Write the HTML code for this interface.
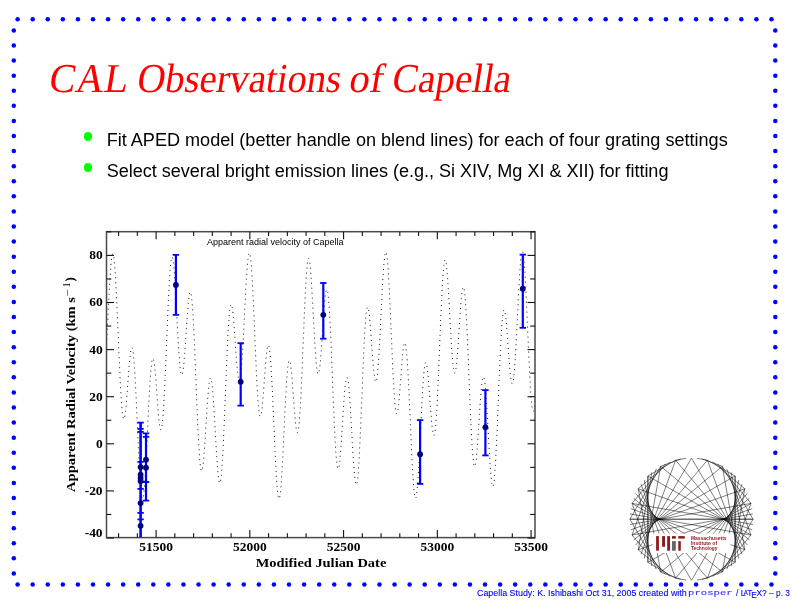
<!DOCTYPE html>
<html><head><meta charset="utf-8"><style>
html,body{margin:0;padding:0;background:#fff;}
body{width:792px;height:612px;position:relative;overflow:hidden;}
.t{position:absolute;white-space:nowrap;line-height:1;}
.ti{top:58px;font-family:"Liberation Serif",serif;color:#ff0000;font-size:41px;transform-origin:0 33px;}
.b{font-family:"Liberation Sans",sans-serif;font-size:18.08px;color:#000;left:106.7px;}
.dot{position:absolute;width:8.4px;height:8.8px;border-radius:50%;background:#00ff00;}
.foot{font-family:"Liberation Sans",sans-serif;font-size:8.9px;color:#0000ff;top:589px;-webkit-text-stroke:0.1px #0000ff;}
.foot.tt{font-family:"Liberation Mono",monospace;font-size:7.6px;top:590.2px;transform:scaleX(1.4);transform-origin:0 0;color:#3a3aff;}
</style></head><body>
<svg width="792" height="612" viewBox="0 0 792 612" style="position:absolute;left:0;top:0">
<g fill="#0000ff"><circle cx="17.60" cy="19.24" r="2.25"/><circle cx="17.60" cy="584.5" r="2.25"/><circle cx="32.68" cy="19.24" r="2.25"/><circle cx="32.68" cy="584.5" r="2.25"/><circle cx="47.76" cy="19.24" r="2.25"/><circle cx="47.76" cy="584.5" r="2.25"/><circle cx="62.83" cy="19.24" r="2.25"/><circle cx="62.83" cy="584.5" r="2.25"/><circle cx="77.91" cy="19.24" r="2.25"/><circle cx="77.91" cy="584.5" r="2.25"/><circle cx="92.99" cy="19.24" r="2.25"/><circle cx="92.99" cy="584.5" r="2.25"/><circle cx="108.07" cy="19.24" r="2.25"/><circle cx="108.07" cy="584.5" r="2.25"/><circle cx="123.15" cy="19.24" r="2.25"/><circle cx="123.15" cy="584.5" r="2.25"/><circle cx="138.22" cy="19.24" r="2.25"/><circle cx="138.22" cy="584.5" r="2.25"/><circle cx="153.30" cy="19.24" r="2.25"/><circle cx="153.30" cy="584.5" r="2.25"/><circle cx="168.38" cy="19.24" r="2.25"/><circle cx="168.38" cy="584.5" r="2.25"/><circle cx="183.46" cy="19.24" r="2.25"/><circle cx="183.46" cy="584.5" r="2.25"/><circle cx="198.54" cy="19.24" r="2.25"/><circle cx="198.54" cy="584.5" r="2.25"/><circle cx="213.61" cy="19.24" r="2.25"/><circle cx="213.61" cy="584.5" r="2.25"/><circle cx="228.69" cy="19.24" r="2.25"/><circle cx="228.69" cy="584.5" r="2.25"/><circle cx="243.77" cy="19.24" r="2.25"/><circle cx="243.77" cy="584.5" r="2.25"/><circle cx="258.85" cy="19.24" r="2.25"/><circle cx="258.85" cy="584.5" r="2.25"/><circle cx="273.93" cy="19.24" r="2.25"/><circle cx="273.93" cy="584.5" r="2.25"/><circle cx="289.00" cy="19.24" r="2.25"/><circle cx="289.00" cy="584.5" r="2.25"/><circle cx="304.08" cy="19.24" r="2.25"/><circle cx="304.08" cy="584.5" r="2.25"/><circle cx="319.16" cy="19.24" r="2.25"/><circle cx="319.16" cy="584.5" r="2.25"/><circle cx="334.24" cy="19.24" r="2.25"/><circle cx="334.24" cy="584.5" r="2.25"/><circle cx="349.32" cy="19.24" r="2.25"/><circle cx="349.32" cy="584.5" r="2.25"/><circle cx="364.39" cy="19.24" r="2.25"/><circle cx="364.39" cy="584.5" r="2.25"/><circle cx="379.47" cy="19.24" r="2.25"/><circle cx="379.47" cy="584.5" r="2.25"/><circle cx="394.55" cy="19.24" r="2.25"/><circle cx="394.55" cy="584.5" r="2.25"/><circle cx="409.63" cy="19.24" r="2.25"/><circle cx="409.63" cy="584.5" r="2.25"/><circle cx="424.71" cy="19.24" r="2.25"/><circle cx="424.71" cy="584.5" r="2.25"/><circle cx="439.78" cy="19.24" r="2.25"/><circle cx="439.78" cy="584.5" r="2.25"/><circle cx="454.86" cy="19.24" r="2.25"/><circle cx="454.86" cy="584.5" r="2.25"/><circle cx="469.94" cy="19.24" r="2.25"/><circle cx="469.94" cy="584.5" r="2.25"/><circle cx="485.02" cy="19.24" r="2.25"/><circle cx="485.02" cy="584.5" r="2.25"/><circle cx="500.10" cy="19.24" r="2.25"/><circle cx="500.10" cy="584.5" r="2.25"/><circle cx="515.17" cy="19.24" r="2.25"/><circle cx="515.17" cy="584.5" r="2.25"/><circle cx="530.25" cy="19.24" r="2.25"/><circle cx="530.25" cy="584.5" r="2.25"/><circle cx="545.33" cy="19.24" r="2.25"/><circle cx="545.33" cy="584.5" r="2.25"/><circle cx="560.41" cy="19.24" r="2.25"/><circle cx="560.41" cy="584.5" r="2.25"/><circle cx="575.49" cy="19.24" r="2.25"/><circle cx="575.49" cy="584.5" r="2.25"/><circle cx="590.56" cy="19.24" r="2.25"/><circle cx="590.56" cy="584.5" r="2.25"/><circle cx="605.64" cy="19.24" r="2.25"/><circle cx="605.64" cy="584.5" r="2.25"/><circle cx="620.72" cy="19.24" r="2.25"/><circle cx="620.72" cy="584.5" r="2.25"/><circle cx="635.80" cy="19.24" r="2.25"/><circle cx="635.80" cy="584.5" r="2.25"/><circle cx="650.88" cy="19.24" r="2.25"/><circle cx="650.88" cy="584.5" r="2.25"/><circle cx="665.95" cy="19.24" r="2.25"/><circle cx="665.95" cy="584.5" r="2.25"/><circle cx="681.03" cy="19.24" r="2.25"/><circle cx="681.03" cy="584.5" r="2.25"/><circle cx="696.11" cy="19.24" r="2.25"/><circle cx="696.11" cy="584.5" r="2.25"/><circle cx="711.19" cy="19.24" r="2.25"/><circle cx="711.19" cy="584.5" r="2.25"/><circle cx="726.27" cy="19.24" r="2.25"/><circle cx="726.27" cy="584.5" r="2.25"/><circle cx="741.34" cy="19.24" r="2.25"/><circle cx="741.34" cy="584.5" r="2.25"/><circle cx="756.42" cy="19.24" r="2.25"/><circle cx="756.42" cy="584.5" r="2.25"/><circle cx="771.50" cy="19.24" r="2.25"/><circle cx="771.50" cy="584.5" r="2.25"/><circle cx="13.8" cy="30.45" r="2.25"/><circle cx="775.3" cy="30.45" r="2.25"/><circle cx="13.8" cy="45.53" r="2.25"/><circle cx="775.3" cy="45.53" r="2.25"/><circle cx="13.8" cy="60.61" r="2.25"/><circle cx="775.3" cy="60.61" r="2.25"/><circle cx="13.8" cy="75.70" r="2.25"/><circle cx="775.3" cy="75.70" r="2.25"/><circle cx="13.8" cy="90.78" r="2.25"/><circle cx="775.3" cy="90.78" r="2.25"/><circle cx="13.8" cy="105.86" r="2.25"/><circle cx="775.3" cy="105.86" r="2.25"/><circle cx="13.8" cy="120.94" r="2.25"/><circle cx="775.3" cy="120.94" r="2.25"/><circle cx="13.8" cy="136.02" r="2.25"/><circle cx="775.3" cy="136.02" r="2.25"/><circle cx="13.8" cy="151.11" r="2.25"/><circle cx="775.3" cy="151.11" r="2.25"/><circle cx="13.8" cy="166.19" r="2.25"/><circle cx="775.3" cy="166.19" r="2.25"/><circle cx="13.8" cy="181.27" r="2.25"/><circle cx="775.3" cy="181.27" r="2.25"/><circle cx="13.8" cy="196.35" r="2.25"/><circle cx="775.3" cy="196.35" r="2.25"/><circle cx="13.8" cy="211.43" r="2.25"/><circle cx="775.3" cy="211.43" r="2.25"/><circle cx="13.8" cy="226.52" r="2.25"/><circle cx="775.3" cy="226.52" r="2.25"/><circle cx="13.8" cy="241.60" r="2.25"/><circle cx="775.3" cy="241.60" r="2.25"/><circle cx="13.8" cy="256.68" r="2.25"/><circle cx="775.3" cy="256.68" r="2.25"/><circle cx="13.8" cy="271.76" r="2.25"/><circle cx="775.3" cy="271.76" r="2.25"/><circle cx="13.8" cy="286.84" r="2.25"/><circle cx="775.3" cy="286.84" r="2.25"/><circle cx="13.8" cy="301.92" r="2.25"/><circle cx="775.3" cy="301.92" r="2.25"/><circle cx="13.8" cy="317.01" r="2.25"/><circle cx="775.3" cy="317.01" r="2.25"/><circle cx="13.8" cy="332.09" r="2.25"/><circle cx="775.3" cy="332.09" r="2.25"/><circle cx="13.8" cy="347.17" r="2.25"/><circle cx="775.3" cy="347.17" r="2.25"/><circle cx="13.8" cy="362.25" r="2.25"/><circle cx="775.3" cy="362.25" r="2.25"/><circle cx="13.8" cy="377.33" r="2.25"/><circle cx="775.3" cy="377.33" r="2.25"/><circle cx="13.8" cy="392.42" r="2.25"/><circle cx="775.3" cy="392.42" r="2.25"/><circle cx="13.8" cy="407.50" r="2.25"/><circle cx="775.3" cy="407.50" r="2.25"/><circle cx="13.8" cy="422.58" r="2.25"/><circle cx="775.3" cy="422.58" r="2.25"/><circle cx="13.8" cy="437.66" r="2.25"/><circle cx="775.3" cy="437.66" r="2.25"/><circle cx="13.8" cy="452.74" r="2.25"/><circle cx="775.3" cy="452.74" r="2.25"/><circle cx="13.8" cy="467.83" r="2.25"/><circle cx="775.3" cy="467.83" r="2.25"/><circle cx="13.8" cy="482.91" r="2.25"/><circle cx="775.3" cy="482.91" r="2.25"/><circle cx="13.8" cy="497.99" r="2.25"/><circle cx="775.3" cy="497.99" r="2.25"/><circle cx="13.8" cy="513.07" r="2.25"/><circle cx="775.3" cy="513.07" r="2.25"/><circle cx="13.8" cy="528.15" r="2.25"/><circle cx="775.3" cy="528.15" r="2.25"/><circle cx="13.8" cy="543.24" r="2.25"/><circle cx="775.3" cy="543.24" r="2.25"/><circle cx="13.8" cy="558.32" r="2.25"/><circle cx="775.3" cy="558.32" r="2.25"/><circle cx="13.8" cy="573.40" r="2.25"/><circle cx="775.3" cy="573.40" r="2.25"/></g>
<g clip-path="url(#pc)"><polyline points="104.1,374.6 104.3,373.2 104.5,371.6 104.7,369.8 104.9,367.9 105.0,365.7 105.2,363.4 105.4,361.0 105.6,358.3 105.8,355.6 106.0,352.6 106.2,349.6 106.4,346.4 106.5,343.1 106.7,339.8 106.9,336.3 107.1,332.8 107.3,329.2 107.5,325.5 107.7,321.8 107.9,318.1 108.0,314.4 108.2,310.7 108.4,307.0 108.6,303.3 108.8,299.7 109.0,296.1 109.2,292.6 109.4,289.2 109.5,285.9 109.7,282.6 109.9,279.5 110.1,276.6 110.3,273.7 110.5,271.0 110.7,268.5 110.9,266.2 111.0,264.0 111.2,262.0 111.4,260.3 111.6,258.7 111.8,257.3 112.0,256.2 112.2,255.3 112.4,254.6 112.5,254.1 112.7,253.9 112.9,253.9 113.1,254.1 113.3,254.6 113.5,255.4 113.7,256.3 113.9,257.5 114.0,258.9 114.2,260.6 114.4,262.5 114.6,264.6 114.8,266.9 115.0,269.4 115.2,272.1 115.4,275.0 115.5,278.1 115.7,281.4 115.9,284.8 116.1,288.4 116.3,292.1 116.5,296.0 116.7,300.0 116.9,304.1 117.0,308.3 117.2,312.5 117.4,316.9 117.6,321.3 117.8,325.7 118.0,330.2 118.2,334.6 118.4,339.1 118.5,343.6 118.7,348.0 118.9,352.4 119.1,356.8 119.3,361.1 119.5,365.3 119.7,369.4 119.9,373.5 120.0,377.4 120.2,381.2 120.4,384.8 120.6,388.3 120.8,391.7 121.0,394.9 121.2,397.9 121.4,400.7 121.5,403.4 121.7,405.8 121.9,408.1 122.1,410.2 122.3,412.0 122.5,413.7 122.7,415.1 122.9,416.3 123.0,417.3 123.2,418.1 123.4,418.7 123.6,419.0 123.8,419.1 124.0,419.1 124.2,418.8 124.4,418.3 124.5,417.7 124.7,416.8 124.9,415.8 125.1,414.6 125.3,413.2 125.5,411.6 125.7,409.9 125.9,408.1 126.0,406.2 126.2,404.1 126.4,401.9 126.6,399.6 126.8,397.3 127.0,394.9 127.2,392.4 127.4,389.9 127.5,387.3 127.7,384.7 127.9,382.1 128.1,379.5 128.3,377.0 128.5,374.4 128.7,372.0 128.9,369.5 129.0,367.2 129.2,364.9 129.4,362.7 129.6,360.6 129.8,358.7 130.0,356.8 130.2,355.2 130.4,353.6 130.5,352.2 130.7,351.0 130.9,349.9 131.1,349.1 131.3,348.4 131.5,347.9 131.7,347.6 131.9,347.5 132.0,347.6 132.2,347.9 132.4,348.4 132.6,349.1 132.8,350.1 133.0,351.2 133.2,352.6 133.4,354.2 133.5,355.9 133.7,357.9 133.9,360.1 134.1,362.5 134.3,365.0 134.5,367.7 134.7,370.6 134.9,373.7 135.0,376.9 135.2,380.3 135.4,383.8 135.6,387.4 135.8,391.2 136.0,395.0 136.2,399.0 136.4,403.0 136.5,407.1 136.7,411.2 136.9,415.4 137.1,419.6 137.3,423.8 137.5,428.1 137.7,432.3 137.9,436.5 138.0,440.7 138.2,444.8 138.4,448.8 138.6,452.8 138.8,456.6 139.0,460.4 139.2,464.1 139.4,467.6 139.5,471.0 139.7,474.2 139.9,477.3 140.1,480.2 140.3,482.9 140.5,485.5 140.7,487.8 140.9,490.0 141.0,491.9 141.2,493.6 141.4,495.1 141.6,496.3 141.8,497.4 142.0,498.2 142.2,498.7 142.4,499.0 142.5,499.1 142.7,499.0 142.9,498.6 143.1,497.9 143.3,497.0 143.5,496.0 143.7,494.6 143.9,493.1 144.0,491.3 144.2,489.3 144.4,487.2 144.6,484.8 144.8,482.2 145.0,479.5 145.2,476.6 145.4,473.5 145.5,470.3 145.7,467.0 145.9,463.5 146.1,459.9 146.3,456.2 146.5,452.5 146.7,448.6 146.9,444.7 147.0,440.8 147.2,436.8 147.4,432.7 147.6,428.7 147.8,424.7 148.0,420.7 148.2,416.7 148.4,412.8 148.5,408.9 148.7,405.1 148.9,401.4 149.1,397.8 149.3,394.3 149.5,390.8 149.7,387.6 149.9,384.4 150.0,381.4 150.2,378.6 150.4,375.9 150.6,373.4 150.8,371.1 151.0,368.9 151.2,367.0 151.4,365.2 151.5,363.6 151.7,362.3 151.9,361.1 152.1,360.1 152.3,359.4 152.5,358.9 152.7,358.5 152.9,358.4 153.0,358.5 153.2,358.7 153.4,359.2 153.6,359.8 153.8,360.7 154.0,361.7 154.2,362.9 154.4,364.2 154.5,365.7 154.7,367.4 154.9,369.2 155.1,371.1 155.3,373.1 155.5,375.3 155.7,377.5 155.9,379.9 156.0,382.3 156.2,384.7 156.4,387.2 156.6,389.8 156.8,392.3 157.0,394.9 157.2,397.5 157.4,400.0 157.5,402.6 157.7,405.1 157.9,407.5 158.1,409.9 158.3,412.1 158.5,414.3 158.7,416.4 158.8,418.4 159.0,420.3 159.2,422.0 159.4,423.5 159.6,424.9 159.8,426.2 160.0,427.3 160.2,428.2 160.3,428.9 160.5,429.4 160.7,429.7 160.9,429.8 161.1,429.7 161.3,429.4 161.5,428.8 161.7,428.1 161.8,427.1 162.0,425.9 162.2,424.5 162.4,422.9 162.6,421.1 162.8,419.0 163.0,416.8 163.2,414.3 163.3,411.6 163.5,408.8 163.7,405.8 163.9,402.5 164.1,399.2 164.3,395.6 164.5,391.9 164.7,388.1 164.8,384.1 165.0,380.0 165.2,375.8 165.4,371.5 165.6,367.2 165.8,362.7 166.0,358.2 166.2,353.6 166.3,349.0 166.5,344.4 166.7,339.8 166.9,335.2 167.1,330.6 167.3,326.1 167.5,321.5 167.7,317.1 167.8,312.7 168.0,308.4 168.2,304.3 168.4,300.2 168.6,296.2 168.8,292.4 169.0,288.8 169.2,285.3 169.3,281.9 169.5,278.8 169.7,275.8 169.9,273.0 170.1,270.5 170.3,268.1 170.5,266.0 170.7,264.0 170.8,262.3 171.0,260.9 171.2,259.6 171.4,258.6 171.6,257.9 171.8,257.4 172.0,257.1 172.2,257.0 172.3,257.2 172.5,257.6 172.7,258.3 172.9,259.2 173.1,260.3 173.3,261.6 173.5,263.1 173.7,264.8 173.8,266.8 174.0,268.9 174.2,271.2 174.4,273.6 174.6,276.3 174.8,279.0 175.0,281.9 175.2,284.9 175.3,288.1 175.5,291.3 175.7,294.7 175.9,298.1 176.1,301.5 176.3,305.1 176.5,308.6 176.7,312.2 176.8,315.8 177.0,319.4 177.2,323.0 177.4,326.5 177.6,330.0 177.8,333.5 178.0,336.8 178.2,340.1 178.3,343.4 178.5,346.5 178.7,349.4 178.9,352.3 179.1,355.1 179.3,357.6 179.5,360.1 179.7,362.4 179.8,364.5 180.0,366.4 180.2,368.2 180.4,369.7 180.6,371.1 180.8,372.3 181.0,373.3 181.2,374.0 181.3,374.6 181.5,375.0 181.7,375.2 181.9,375.1 182.1,374.9 182.3,374.5 182.5,373.8 182.7,373.0 182.8,372.0 183.0,370.8 183.2,369.5 183.4,367.9 183.6,366.3 183.8,364.4 184.0,362.4 184.2,360.3 184.3,358.1 184.5,355.7 184.7,353.3 184.9,350.7 185.1,348.1 185.3,345.4 185.5,342.6 185.7,339.8 185.8,337.0 186.0,334.1 186.2,331.3 186.4,328.4 186.6,325.6 186.8,322.8 187.0,320.1 187.2,317.4 187.3,314.8 187.5,312.3 187.7,309.9 187.9,307.6 188.1,305.4 188.3,303.3 188.5,301.4 188.7,299.6 188.8,298.0 189.0,296.6 189.2,295.3 189.4,294.2 189.6,293.4 189.8,292.7 190.0,292.2 190.2,292.0 190.3,292.0 190.5,292.1 190.7,292.5 190.9,293.2 191.1,294.0 191.3,295.1 191.5,296.4 191.7,298.0 191.8,299.7 192.0,301.7 192.2,303.9 192.4,306.3 192.6,308.9 192.8,311.7 193.0,314.7 193.2,317.9 193.3,321.2 193.5,324.8 193.7,328.5 193.9,332.3 194.1,336.3 194.3,340.4 194.5,344.6 194.7,349.0 194.8,353.4 195.0,357.9 195.2,362.5 195.4,367.1 195.6,371.8 195.8,376.5 196.0,381.2 196.2,386.0 196.3,390.7 196.5,395.4 196.7,400.0 196.9,404.6 197.1,409.1 197.3,413.6 197.5,417.9 197.7,422.2 197.8,426.3 198.0,430.3 198.2,434.2 198.4,437.9 198.6,441.5 198.8,444.9 199.0,448.1 199.2,451.1 199.3,454.0 199.5,456.6 199.7,459.0 199.9,461.3 200.1,463.3 200.3,465.0 200.5,466.6 200.7,467.9 200.8,469.0 201.0,469.9 201.2,470.5 201.4,470.9 201.6,471.1 201.8,471.0 202.0,470.8 202.2,470.3 202.3,469.6 202.5,468.6 202.7,467.5 202.9,466.2 203.1,464.7 203.3,463.0 203.5,461.2 203.7,459.2 203.8,457.0 204.0,454.7 204.2,452.3 204.4,449.7 204.6,447.1 204.8,444.3 205.0,441.4 205.2,438.5 205.3,435.6 205.5,432.5 205.7,429.5 205.9,426.4 206.1,423.4 206.3,420.3 206.5,417.2 206.7,414.2 206.8,411.3 207.0,408.4 207.2,405.5 207.4,402.8 207.6,400.1 207.8,397.6 208.0,395.1 208.2,392.8 208.3,390.6 208.5,388.6 208.7,386.7 208.9,385.0 209.1,383.5 209.3,382.1 209.5,380.9 209.7,379.9 209.8,379.1 210.0,378.5 210.2,378.1 210.4,377.9 210.6,377.9 210.8,378.1 211.0,378.5 211.2,379.1 211.3,379.8 211.5,380.8 211.7,382.0 211.9,383.4 212.1,385.0 212.3,386.7 212.5,388.6 212.7,390.7 212.8,392.9 213.0,395.3 213.2,397.8 213.4,400.5 213.6,403.2 213.8,406.1 214.0,409.1 214.2,412.2 214.3,415.3 214.5,418.5 214.7,421.8 214.9,425.1 215.1,428.4 215.3,431.7 215.5,435.0 215.7,438.4 215.8,441.7 216.0,444.9 216.2,448.1 216.4,451.2 216.6,454.3 216.8,457.2 217.0,460.1 217.2,462.8 217.3,465.4 217.5,467.9 217.7,470.2 217.9,472.3 218.1,474.3 218.3,476.1 218.5,477.7 218.7,479.1 218.8,480.4 219.0,481.4 219.2,482.1 219.4,482.7 219.6,483.1 219.8,483.2 220.0,483.0 220.2,482.7 220.3,482.1 220.5,481.3 220.7,480.2 220.9,478.9 221.1,477.4 221.3,475.7 221.5,473.7 221.7,471.5 221.8,469.1 222.0,466.4 222.2,463.6 222.4,460.6 222.6,457.4 222.8,454.0 223.0,450.4 223.2,446.7 223.3,442.8 223.5,438.8 223.7,434.6 223.9,430.4 224.1,426.0 224.3,421.6 224.5,417.0 224.7,412.4 224.8,407.8 225.0,403.1 225.2,398.4 225.4,393.7 225.6,388.9 225.8,384.2 226.0,379.5 226.2,374.9 226.3,370.3 226.5,365.8 226.7,361.4 226.9,357.1 227.1,352.8 227.3,348.7 227.5,344.7 227.7,340.9 227.8,337.2 228.0,333.7 228.2,330.3 228.4,327.1 228.6,324.1 228.8,321.3 229.0,318.7 229.2,316.3 229.3,314.1 229.5,312.2 229.7,310.4 229.9,308.9 230.1,307.5 230.3,306.4 230.5,305.6 230.7,304.9 230.8,304.5 231.0,304.3 231.2,304.3 231.4,304.5 231.6,304.9 231.8,305.5 232.0,306.3 232.2,307.4 232.3,308.5 232.5,309.9 232.7,311.4 232.9,313.1 233.1,315.0 233.3,316.9 233.5,319.0 233.7,321.2 233.8,323.5 234.0,325.9 234.2,328.4 234.4,331.0 234.6,333.6 234.8,336.2 235.0,338.9 235.2,341.6 235.3,344.3 235.5,346.9 235.7,349.6 235.9,352.2 236.1,354.8 236.3,357.3 236.5,359.7 236.7,362.0 236.8,364.3 237.0,366.4 237.2,368.4 237.4,370.3 237.6,372.1 237.8,373.7 238.0,375.1 238.2,376.4 238.3,377.5 238.5,378.4 238.7,379.2 238.9,379.8 239.1,380.1 239.3,380.3 239.5,380.3 239.7,380.0 239.8,379.6 240.0,379.0 240.2,378.1 240.4,377.1 240.6,375.8 240.8,374.4 241.0,372.8 241.2,370.9 241.3,368.9 241.5,366.8 241.7,364.4 241.9,361.9 242.1,359.2 242.3,356.4 242.5,353.4 242.7,350.3 242.8,347.1 243.0,343.8 243.2,340.3 243.4,336.8 243.6,333.2 243.8,329.6 244.0,325.9 244.2,322.2 244.3,318.4 244.5,314.6 244.7,310.9 244.9,307.1 245.1,303.4 245.3,299.7 245.5,296.1 245.7,292.5 245.8,289.1 246.0,285.7 246.2,282.4 246.4,279.3 246.6,276.2 246.8,273.4 247.0,270.6 247.2,268.1 247.3,265.7 247.5,263.5 247.7,261.4 247.9,259.6 248.1,258.0 248.3,256.6 248.5,255.4 248.7,254.4 248.8,253.7 249.0,253.2 249.2,252.9 249.4,252.9 249.6,253.1 249.8,253.6 250.0,254.2 250.2,255.2 250.3,256.3 250.5,257.7 250.7,259.3 250.9,261.2 251.1,263.2 251.3,265.5 251.5,268.0 251.7,270.7 251.8,273.5 252.0,276.6 252.2,279.8 252.4,283.2 252.6,286.8 252.8,290.5 253.0,294.3 253.2,298.2 253.3,302.3 253.5,306.5 253.7,310.7 253.9,315.0 254.1,319.4 254.3,323.8 254.5,328.2 254.7,332.6 254.8,337.1 255.0,341.5 255.2,346.0 255.4,350.3 255.6,354.7 255.8,358.9 256.0,363.1 256.2,367.2 256.3,371.2 256.5,375.1 256.7,378.9 256.9,382.5 257.1,386.0 257.3,389.3 257.5,392.5 257.7,395.5 257.8,398.3 258.0,400.9 258.2,403.4 258.4,405.6 258.6,407.7 258.8,409.5 259.0,411.1 259.2,412.5 259.3,413.7 259.5,414.7 259.7,415.5 259.9,416.0 260.1,416.4 260.3,416.5 260.5,416.4 260.7,416.1 260.8,415.7 261.0,415.0 261.2,414.1 261.4,413.1 261.6,411.9 261.8,410.5 262.0,408.9 262.2,407.2 262.3,405.4 262.5,403.5 262.7,401.4 262.9,399.2 263.1,396.9 263.3,394.6 263.5,392.2 263.7,389.7 263.8,387.2 264.0,384.6 264.2,382.0 264.4,379.4 264.6,376.9 264.8,374.3 265.0,371.8 265.2,369.3 265.3,366.9 265.5,364.5 265.7,362.3 265.9,360.1 266.1,358.0 266.3,356.1 266.5,354.3 266.7,352.6 266.8,351.1 267.0,349.7 267.2,348.5 267.4,347.5 267.6,346.6 267.8,345.9 268.0,345.5 268.2,345.2 268.3,345.1 268.5,345.2 268.7,345.6 268.9,346.1 269.1,346.9 269.3,347.8 269.5,349.0 269.7,350.4 269.8,352.0 270.0,353.8 270.2,355.8 270.4,358.0 270.6,360.4 270.8,363.0 271.0,365.7 271.2,368.7 271.3,371.8 271.5,375.0 271.7,378.4 271.9,382.0 272.1,385.6 272.3,389.4 272.5,393.3 272.7,397.3 272.8,401.3 273.0,405.4 273.2,409.6 273.4,413.9 273.6,418.1 273.8,422.4 274.0,426.6 274.2,430.9 274.3,435.1 274.5,439.3 274.7,443.5 274.9,447.6 275.1,451.6 275.3,455.5 275.5,459.3 275.6,463.0 275.8,466.5 276.0,470.0 276.2,473.3 276.4,476.4 276.6,479.3 276.8,482.1 277.0,484.7 277.1,487.1 277.3,489.2 277.5,491.2 277.7,493.0 277.9,494.5 278.1,495.8 278.3,496.9 278.5,497.7 278.6,498.3 278.8,498.7 279.0,498.8 279.2,498.7 279.4,498.3 279.6,497.7 279.8,496.9 280.0,495.8 280.1,494.5 280.3,493.0 280.5,491.3 280.7,489.4 280.9,487.3 281.1,484.9 281.3,482.4 281.5,479.7 281.6,476.9 281.8,473.9 282.0,470.7 282.2,467.4 282.4,464.0 282.6,460.4 282.8,456.8 283.0,453.1 283.1,449.3 283.3,445.4 283.5,441.5 283.7,437.5 283.9,433.6 284.1,429.6 284.3,425.6 284.5,421.7 284.6,417.7 284.8,413.9 285.0,410.0 285.2,406.3 285.4,402.6 285.6,399.0 285.8,395.5 286.0,392.2 286.1,388.9 286.3,385.8 286.5,382.9 286.7,380.1 286.9,377.4 287.1,375.0 287.3,372.7 287.5,370.6 287.6,368.7 287.8,366.9 288.0,365.4 288.2,364.1 288.4,363.0 288.6,362.1 288.8,361.3 289.0,360.8 289.1,360.5 289.3,360.4 289.5,360.5 289.7,360.9 289.9,361.3 290.1,362.0 290.3,362.9 290.5,363.9 290.6,365.2 290.8,366.6 291.0,368.1 291.2,369.8 291.4,371.6 291.6,373.5 291.8,375.6 292.0,377.8 292.1,380.1 292.3,382.4 292.5,384.8 292.7,387.3 292.9,389.9 293.1,392.4 293.3,395.0 293.5,397.6 293.6,400.2 293.8,402.8 294.0,405.3 294.2,407.8 294.4,410.3 294.6,412.6 294.8,414.9 295.0,417.1 295.1,419.2 295.3,421.2 295.5,423.1 295.7,424.8 295.9,426.4 296.1,427.8 296.3,429.0 296.5,430.1 296.6,431.0 296.8,431.7 297.0,432.2 297.2,432.5 297.4,432.6 297.6,432.5 297.8,432.2 298.0,431.7 298.1,430.9 298.3,430.0 298.5,428.8 298.7,427.3 298.9,425.7 299.1,423.9 299.3,421.8 299.5,419.5 299.6,417.1 299.8,414.4 300.0,411.5 300.2,408.5 300.4,405.3 300.6,401.9 300.8,398.3 301.0,394.6 301.1,390.7 301.3,386.7 301.5,382.6 301.7,378.4 301.9,374.1 302.1,369.7 302.3,365.2 302.5,360.7 302.6,356.1 302.8,351.5 303.0,346.8 303.2,342.2 303.4,337.6 303.6,332.9 303.8,328.4 304.0,323.8 304.1,319.3 304.3,314.9 304.5,310.6 304.7,306.4 304.9,302.3 305.1,298.3 305.3,294.5 305.5,290.8 305.6,287.3 305.8,283.9 306.0,280.7 306.2,277.7 306.4,274.9 306.6,272.3 306.8,269.9 307.0,267.7 307.1,265.7 307.3,264.0 307.5,262.5 307.7,261.2 307.9,260.2 308.1,259.4 308.3,258.8 308.5,258.5 308.6,258.4 308.8,258.5 309.0,258.9 309.2,259.5 309.4,260.4 309.6,261.4 309.8,262.7 310.0,264.2 310.1,265.9 310.3,267.7 310.5,269.8 310.7,272.0 310.9,274.5 311.1,277.0 311.3,279.7 311.5,282.6 311.6,285.6 311.8,288.7 312.0,291.9 312.2,295.2 312.4,298.5 312.6,301.9 312.8,305.4 313.0,308.9 313.1,312.5 313.3,316.0 313.5,319.5 313.7,323.1 313.9,326.6 314.1,330.0 314.3,333.4 314.5,336.7 314.6,340.0 314.8,343.2 315.0,346.2 315.2,349.2 315.4,352.0 315.6,354.7 315.8,357.2 316.0,359.6 316.1,361.8 316.3,363.9 316.5,365.8 316.7,367.5 316.9,369.0 317.1,370.3 317.3,371.4 317.5,372.4 317.6,373.1 317.8,373.6 318.0,374.0 318.2,374.1 318.4,374.0 318.6,373.7 318.8,373.3 319.0,372.6 319.1,371.7 319.3,370.7 319.5,369.5 319.7,368.1 319.9,366.5 320.1,364.8 320.3,362.9 320.5,360.9 320.6,358.7 320.8,356.4 321.0,354.0 321.2,351.5 321.4,348.9 321.6,346.3 321.8,343.5 322.0,340.8 322.1,337.9 322.3,335.1 322.5,332.2 322.7,329.3 322.9,326.4 323.1,323.6 323.3,320.8 323.5,318.0 323.6,315.3 323.8,312.6 324.0,310.1 324.2,307.6 324.4,305.3 324.6,303.1 324.8,301.0 325.0,299.1 325.1,297.3 325.3,295.6 325.5,294.2 325.7,292.9 325.9,291.8 326.1,290.9 326.3,290.3 326.5,289.8 326.6,289.5 326.8,289.5 327.0,289.6 327.2,290.0 327.4,290.6 327.6,291.5 327.8,292.5 328.0,293.8 328.1,295.4 328.3,297.1 328.5,299.1 328.7,301.3 328.9,303.7 329.1,306.3 329.3,309.1 329.5,312.0 329.6,315.2 329.8,318.6 330.0,322.1 330.2,325.8 330.4,329.7 330.6,333.6 330.8,337.7 331.0,342.0 331.1,346.3 331.3,350.8 331.5,355.3 331.7,359.8 331.9,364.5 332.1,369.2 332.3,373.9 332.5,378.6 332.6,383.3 332.8,388.1 333.0,392.7 333.2,397.4 333.4,402.0 333.6,406.5 333.8,411.0 334.0,415.4 334.1,419.6 334.3,423.8 334.5,427.8 334.7,431.7 334.9,435.4 335.1,439.0 335.3,442.4 335.5,445.6 335.6,448.7 335.8,451.5 336.0,454.2 336.2,456.6 336.4,458.9 336.6,460.9 336.8,462.7 337.0,464.2 337.1,465.6 337.3,466.7 337.5,467.6 337.7,468.2 337.9,468.7 338.1,468.9 338.3,468.8 338.5,468.6 338.6,468.1 338.8,467.4 339.0,466.6 339.2,465.5 339.4,464.2 339.6,462.7 339.8,461.1 340.0,459.2 340.1,457.3 340.3,455.1 340.5,452.8 340.7,450.4 340.9,447.9 341.1,445.3 341.3,442.6 341.5,439.8 341.6,436.9 341.8,433.9 342.0,431.0 342.2,427.9 342.4,424.9 342.6,421.9 342.8,418.8 343.0,415.8 343.1,412.9 343.3,409.9 343.5,407.1 343.7,404.3 343.9,401.6 344.1,398.9 344.3,396.4 344.5,394.0 344.6,391.8 344.8,389.6 345.0,387.7 345.2,385.8 345.4,384.2 345.6,382.7 345.8,381.3 346.0,380.2 346.1,379.2 346.3,378.5 346.5,377.9 346.7,377.6 346.9,377.4 347.1,377.4 347.3,377.7 347.5,378.1 347.6,378.8 347.8,379.6 348.0,380.6 348.2,381.9 348.4,383.3 348.6,384.9 348.8,386.7 349.0,388.6 349.1,390.8 349.3,393.0 349.5,395.5 349.7,398.0 349.9,400.7 350.1,403.6 350.3,406.5 350.5,409.5 350.6,412.6 350.8,415.8 351.0,419.1 351.2,422.4 351.4,425.7 351.6,429.1 351.8,432.5 352.0,435.8 352.1,439.2 352.3,442.5 352.5,445.8 352.7,449.1 352.9,452.2 353.1,455.3 353.3,458.3 353.5,461.2 353.6,464.0 353.8,466.6 354.0,469.1 354.2,471.5 354.4,473.7 354.6,475.7 354.8,477.6 355.0,479.2 355.1,480.7 355.3,481.9 355.5,483.0 355.7,483.8 355.9,484.4 356.1,484.8 356.3,484.9 356.5,484.8 356.6,484.5 356.8,484.0 357.0,483.2 357.2,482.2 357.4,480.9 357.6,479.4 357.8,477.7 358.0,475.7 358.1,473.6 358.3,471.2 358.5,468.6 358.7,465.8 358.9,462.8 359.1,459.6 359.3,456.2 359.5,452.7 359.6,449.0 359.8,445.2 360.0,441.2 360.2,437.1 360.4,432.8 360.6,428.5 360.8,424.0 361.0,419.5 361.1,415.0 361.3,410.3 361.5,405.7 361.7,401.0 361.9,396.3 362.1,391.6 362.3,386.9 362.5,382.2 362.6,377.6 362.8,373.0 363.0,368.5 363.2,364.1 363.4,359.8 363.6,355.6 363.8,351.5 364.0,347.5 364.1,343.7 364.3,340.0 364.5,336.5 364.7,333.1 364.9,330.0 365.1,327.0 365.3,324.2 365.5,321.6 365.6,319.2 365.8,317.0 366.0,315.0 366.2,313.2 366.4,311.7 366.6,310.4 366.8,309.3 367.0,308.4 367.1,307.8 367.3,307.3 367.5,307.1 367.7,307.1 367.9,307.3 368.1,307.7 368.3,308.3 368.5,309.1 368.6,310.1 368.8,311.3 369.0,312.7 369.2,314.2 369.4,315.9 369.6,317.7 369.8,319.6 370.0,321.7 370.1,323.9 370.3,326.2 370.5,328.6 370.7,331.0 370.9,333.5 371.1,336.1 371.3,338.7 371.5,341.4 371.6,344.0 371.8,346.7 372.0,349.3 372.2,352.0 372.4,354.5 372.6,357.1 372.8,359.5 373.0,361.9 373.1,364.3 373.3,366.5 373.5,368.6 373.7,370.5 373.9,372.4 374.1,374.1 374.3,375.7 374.5,377.1 374.6,378.3 374.8,379.4 375.0,380.3 375.2,381.0 375.4,381.5 375.6,381.8 375.8,382.0 376.0,381.9 376.1,381.6 376.3,381.1 376.5,380.5 376.7,379.6 376.9,378.5 377.1,377.2 377.3,375.7 377.5,374.0 377.6,372.2 377.8,370.1 378.0,367.9 378.2,365.5 378.4,362.9 378.6,360.2 378.8,357.3 379.0,354.3 379.1,351.1 379.3,347.9 379.5,344.5 379.7,341.0 379.9,337.5 380.1,333.8 380.3,330.1 380.5,326.4 380.6,322.6 380.8,318.8 381.0,315.0 381.2,311.2 381.4,307.4 381.6,303.6 381.8,299.9 382.0,296.2 382.1,292.6 382.3,289.1 382.5,285.6 382.7,282.3 382.9,279.1 383.1,276.0 383.3,273.1 383.5,270.3 383.6,267.7 383.8,265.3 384.0,263.0 384.2,261.0 384.4,259.1 384.6,257.4 384.8,256.0 385.0,254.8 385.1,253.8 385.3,253.0 385.5,252.4 385.7,252.1 385.9,252.0 386.1,252.2 386.3,252.6 386.5,253.3 386.6,254.1 386.8,255.2 387.0,256.6 387.2,258.2 387.4,260.0 387.6,262.0 387.8,264.2 388.0,266.7 388.1,269.3 388.3,272.2 388.5,275.2 388.7,278.4 388.9,281.7 389.1,285.2 389.3,288.9 389.5,292.7 389.6,296.6 389.8,300.6 390.0,304.7 390.2,308.9 390.4,313.2 390.6,317.5 390.8,321.9 391.0,326.3 391.1,330.7 391.3,335.1 391.5,339.6 391.7,343.9 391.9,348.3 392.1,352.6 392.3,356.8 392.4,361.0 392.6,365.1 392.8,369.0 393.0,372.9 393.2,376.6 393.4,380.2 393.6,383.7 393.8,387.0 393.9,390.2 394.1,393.1 394.3,395.9 394.5,398.5 394.7,401.0 394.9,403.2 395.1,405.2 395.3,407.0 395.4,408.6 395.6,410.0 395.8,411.2 396.0,412.2 396.2,412.9 396.4,413.5 396.6,413.8 396.8,413.9 396.9,413.8 397.1,413.5 397.3,413.0 397.5,412.3 397.7,411.5 397.9,410.4 398.1,409.2 398.3,407.8 398.4,406.2 398.6,404.5 398.8,402.7 399.0,400.8 399.2,398.7 399.4,396.5 399.6,394.2 399.8,391.9 399.9,389.4 400.1,387.0 400.3,384.4 400.5,381.9 400.7,379.3 400.9,376.7 401.1,374.2 401.3,371.6 401.4,369.1 401.6,366.6 401.8,364.2 402.0,361.9 402.2,359.6 402.4,357.5 402.6,355.4 402.8,353.5 402.9,351.7 403.1,350.0 403.3,348.5 403.5,347.1 403.7,346.0 403.9,344.9 404.1,344.1 404.3,343.4 404.4,343.0 404.6,342.7 404.8,342.7 405.0,342.8 405.2,343.2 405.4,343.8 405.6,344.5 405.8,345.5 405.9,346.7 406.1,348.1 406.3,349.8 406.5,351.6 406.7,353.6 406.9,355.9 407.1,358.3 407.3,360.9 407.4,363.7 407.6,366.6 407.8,369.8 408.0,373.1 408.2,376.5 408.4,380.1 408.6,383.8 408.8,387.6 408.9,391.5 409.1,395.5 409.3,399.6 409.5,403.7 409.7,408.0 409.9,412.2 410.1,416.5 410.3,420.8 410.4,425.1 410.6,429.4 410.8,433.7 411.0,437.9 411.2,442.1 411.4,446.2 411.6,450.3 411.8,454.2 411.9,458.1 412.1,461.8 412.3,465.4 412.5,468.9 412.7,472.2 412.9,475.3 413.1,478.3 413.3,481.1 413.4,483.8 413.6,486.2 413.8,488.4 414.0,490.4 414.2,492.2 414.4,493.8 414.6,495.1 414.8,496.2 414.9,497.1 415.1,497.7 415.3,498.2 415.5,498.3 415.7,498.2 415.9,497.9 416.1,497.4 416.3,496.6 416.4,495.6 416.6,494.4 416.8,492.9 417.0,491.2 417.2,489.3 417.4,487.2 417.6,485.0 417.8,482.5 417.9,479.9 418.1,477.0 418.3,474.1 418.5,470.9 418.7,467.7 418.9,464.3 419.1,460.8 419.3,457.2 419.4,453.6 419.6,449.8 419.8,446.0 420.0,442.1 420.2,438.2 420.4,434.3 420.6,430.4 420.8,426.4 420.9,422.5 421.1,418.6 421.3,414.8 421.5,411.0 421.7,407.3 421.9,403.7 422.1,400.1 422.3,396.7 422.4,393.4 422.6,390.2 422.8,387.1 423.0,384.2 423.2,381.5 423.4,378.9 423.6,376.5 423.8,374.2 423.9,372.2 424.1,370.3 424.3,368.6 424.5,367.1 424.7,365.8 424.9,364.8 425.1,363.9 425.3,363.2 425.4,362.7 425.6,362.5 425.8,362.4 426.0,362.6 426.2,362.9 426.4,363.4 426.6,364.2 426.8,365.1 426.9,366.1 427.1,367.4 427.3,368.8 427.5,370.4 427.7,372.1 427.9,373.9 428.1,375.9 428.3,378.0 428.4,380.2 428.6,382.5 428.8,384.9 429.0,387.4 429.2,389.9 429.4,392.4 429.6,395.0 429.8,397.6 429.9,400.2 430.1,402.9 430.3,405.4 430.5,408.0 430.7,410.5 430.9,413.0 431.1,415.4 431.3,417.7 431.4,419.9 431.6,422.0 431.8,424.0 432.0,425.9 432.2,427.6 432.4,429.2 432.6,430.6 432.8,431.9 432.9,433.0 433.1,433.9 433.3,434.6 433.5,435.1 433.7,435.4 433.9,435.5 434.1,435.4 434.3,435.1 434.4,434.5 434.6,433.8 434.8,432.8 435.0,431.6 435.2,430.2 435.4,428.6 435.6,426.7 435.8,424.6 435.9,422.4 436.1,419.9 436.3,417.2 436.5,414.3 436.7,411.3 436.9,408.0 437.1,404.6 437.3,401.0 437.4,397.3 437.6,393.4 437.8,389.4 438.0,385.3 438.2,381.1 438.4,376.7 438.6,372.3 438.8,367.8 438.9,363.2 439.1,358.6 439.3,354.0 439.5,349.3 439.7,344.7 439.9,340.0 440.1,335.3 440.3,330.7 440.4,326.2 440.6,321.7 440.8,317.2 441.0,312.9 441.2,308.6 441.4,304.5 441.6,300.5 441.8,296.6 441.9,292.9 442.1,289.3 442.3,285.9 442.5,282.7 442.7,279.7 442.9,276.8 443.1,274.2 443.3,271.7 443.4,269.5 443.6,267.5 443.8,265.7 444.0,264.2 444.2,262.9 444.4,261.8 444.6,261.0 444.8,260.4 444.9,260.0 445.1,259.9 445.3,260.0 445.5,260.3 445.7,260.9 445.9,261.7 446.1,262.7 446.3,263.9 446.4,265.3 446.6,267.0 446.8,268.8 447.0,270.8 447.2,273.0 447.4,275.4 447.6,277.9 447.8,280.6 447.9,283.4 448.1,286.3 448.3,289.4 448.5,292.5 448.7,295.8 448.9,299.1 449.1,302.5 449.3,305.9 449.4,309.3 449.6,312.8 449.8,316.3 450.0,319.8 450.2,323.3 450.4,326.7 450.6,330.1 450.8,333.5 450.9,336.8 451.1,340.0 451.3,343.1 451.5,346.1 451.7,349.0 451.9,351.7 452.1,354.4 452.3,356.9 452.4,359.2 452.6,361.4 452.8,363.4 453.0,365.2 453.2,366.9 453.4,368.4 453.6,369.6 453.8,370.7 453.9,371.6 454.1,372.3 454.3,372.8 454.5,373.1 454.7,373.1 454.9,373.0 455.1,372.7 455.3,372.2 455.4,371.5 455.6,370.6 455.8,369.5 456.0,368.2 456.2,366.8 456.4,365.1 456.6,363.4 456.8,361.5 456.9,359.4 457.1,357.2 457.3,354.9 457.5,352.4 457.7,349.9 457.9,347.3 458.1,344.6 458.3,341.8 458.4,339.0 458.6,336.1 458.8,333.2 459.0,330.3 459.2,327.4 459.4,324.5 459.6,321.6 459.8,318.7 459.9,315.9 460.1,313.2 460.3,310.5 460.5,308.0 460.7,305.5 460.9,303.1 461.1,300.9 461.3,298.8 461.4,296.8 461.6,295.0 461.8,293.3 462.0,291.9 462.2,290.6 462.4,289.5 462.6,288.6 462.8,287.8 462.9,287.3 463.1,287.1 463.3,287.0 463.5,287.2 463.7,287.5 463.9,288.1 464.1,289.0 464.3,290.0 464.4,291.3 464.6,292.8 464.8,294.5 465.0,296.5 465.2,298.7 465.4,301.1 465.6,303.7 465.8,306.4 465.9,309.4 466.1,312.6 466.3,316.0 466.5,319.5 466.7,323.2 466.9,327.0 467.1,331.0 467.3,335.1 467.4,339.3 467.6,343.7 467.8,348.1 468.0,352.6 468.2,357.2 468.4,361.8 468.6,366.5 468.8,371.2 468.9,376.0 469.1,380.7 469.3,385.4 469.5,390.1 469.7,394.8 469.9,399.4 470.1,403.9 470.3,408.4 470.4,412.8 470.6,417.0 470.8,421.2 471.0,425.2 471.2,429.1 471.4,432.9 471.6,436.5 471.8,439.9 471.9,443.1 472.1,446.2 472.3,449.0 472.5,451.7 472.7,454.2 472.9,456.4 473.1,458.4 473.3,460.3 473.4,461.8 473.6,463.2 473.8,464.3 474.0,465.2 474.2,465.9 474.4,466.4 474.6,466.6 474.8,466.6 474.9,466.4 475.1,465.9 475.3,465.3 475.5,464.4 475.7,463.3 475.9,462.1 476.1,460.6 476.3,459.0 476.4,457.2 476.6,455.3 476.8,453.2 477.0,450.9 477.2,448.5 477.4,446.0 477.6,443.4 477.8,440.7 477.9,438.0 478.1,435.1 478.3,432.2 478.5,429.3 478.7,426.3 478.9,423.3 479.1,420.3 479.3,417.3 479.4,414.3 479.6,411.4 479.8,408.5 480.0,405.7 480.2,402.9 480.4,400.3 480.6,397.7 480.8,395.2 480.9,392.9 481.1,390.6 481.3,388.5 481.5,386.6 481.7,384.8 481.9,383.2 482.1,381.7 482.3,380.5 482.4,379.4 482.6,378.5 482.8,377.7 483.0,377.2 483.2,376.9 483.4,376.8 483.6,376.9 483.8,377.2 483.9,377.6 484.1,378.3 484.3,379.2 484.5,380.3 484.7,381.6 484.9,383.1 485.1,384.7 485.3,386.6 485.4,388.6 485.6,390.7 485.8,393.1 486.0,395.5 486.2,398.2 486.4,400.9 486.6,403.8 486.8,406.7 486.9,409.8 487.1,413.0 487.3,416.2 487.5,419.5 487.7,422.9 487.9,426.3 488.1,429.7 488.3,433.1 488.4,436.5 488.6,439.9 488.8,443.3 489.0,446.6 489.2,449.9 489.4,453.1 489.6,456.3 489.8,459.3 489.9,462.3 490.1,465.1 490.3,467.8 490.5,470.3 490.7,472.7 490.9,474.9 491.1,477.0 491.3,478.9 491.4,480.6 491.6,482.1 491.8,483.4 492.0,484.5 492.2,485.3 492.4,486.0 492.6,486.4 492.8,486.6 492.9,486.5 493.1,486.3 493.3,485.7 493.5,485.0 493.7,484.0 493.9,482.8 494.1,481.3 494.3,479.6 494.4,477.7 494.6,475.6 494.8,473.2 495.0,470.7 495.2,467.9 495.4,464.9 495.6,461.8 495.8,458.4 495.9,454.9 496.1,451.3 496.3,447.4 496.5,443.5 496.7,439.4 496.9,435.2 497.1,430.9 497.3,426.5 497.4,422.0 497.6,417.4 497.8,412.8 498.0,408.2 498.2,403.5 498.4,398.8 498.6,394.1 498.8,389.5 498.9,384.8 499.1,380.2 499.3,375.7 499.5,371.2 499.7,366.8 499.9,362.5 500.1,358.3 500.3,354.2 500.4,350.3 500.6,346.5 500.8,342.8 501.0,339.3 501.2,335.9 501.4,332.8 501.6,329.8 501.8,327.0 501.9,324.4 502.1,322.0 502.3,319.8 502.5,317.9 502.7,316.1 502.9,314.6 503.1,313.2 503.3,312.1 503.4,311.3 503.6,310.6 503.8,310.2 504.0,309.9 504.2,309.9 504.4,310.1 504.6,310.5 504.8,311.2 504.9,312.0 505.1,312.9 505.3,314.1 505.5,315.5 505.7,317.0 505.9,318.6 506.1,320.4 506.3,322.4 506.4,324.4 506.6,326.6 506.8,328.9 507.0,331.2 507.2,333.7 507.4,336.2 507.6,338.7 507.8,341.3 507.9,343.9 508.1,346.6 508.3,349.2 508.5,351.8 508.7,354.4 508.9,357.0 509.1,359.5 509.3,361.9 509.4,364.3 509.6,366.6 509.8,368.7 510.0,370.8 510.2,372.7 510.4,374.6 510.6,376.2 510.7,377.8 510.9,379.1 511.1,380.3 511.3,381.4 511.5,382.2 511.7,382.9 511.9,383.4 512.1,383.7 512.2,383.7 512.4,383.6 512.6,383.3 512.8,382.8 513.0,382.1 513.2,381.1 513.4,380.0 513.6,378.7 513.7,377.1 513.9,375.4 514.1,373.5 514.3,371.4 514.5,369.1 514.7,366.7 514.9,364.0 515.1,361.3 515.2,358.3 515.4,355.3 515.6,352.1 515.8,348.8 516.0,345.3 516.2,341.8 516.4,338.2 516.6,334.5 516.7,330.8 516.9,327.0 517.1,323.2 517.3,319.3 517.5,315.4 517.7,311.6 517.9,307.7 518.1,303.9 518.2,300.1 518.4,296.4 518.6,292.7 518.8,289.2 519.0,285.7 519.2,282.3 519.4,279.1 519.6,276.0 519.7,273.0 519.9,270.2 520.1,267.5 520.3,265.0 520.5,262.7 520.7,260.6 520.9,258.7 521.1,257.0 521.2,255.5 521.4,254.2 521.6,253.2 521.8,252.3 522.0,251.8 522.2,251.4 522.4,251.3 522.6,251.4 522.7,251.8 522.9,252.4 523.1,253.2 523.3,254.3 523.5,255.6 523.7,257.1 523.9,258.9 524.1,260.9 524.2,263.0 524.4,265.5 524.6,268.1 524.8,270.9 525.0,273.8 525.2,277.0 525.4,280.3 525.6,283.8 525.7,287.4 525.9,291.2 526.1,295.0 526.3,299.0 526.5,303.1 526.7,307.3 526.9,311.5 527.1,315.8 527.2,320.1 527.4,324.5 527.6,328.9 527.8,333.3 528.0,337.6 528.2,342.0 528.4,346.3 528.6,350.6 528.7,354.8 528.9,358.9 529.1,363.0 529.3,366.9 529.5,370.8 529.7,374.5 529.9,378.0 530.1,381.5 530.2,384.8 530.4,387.9 530.6,390.8 530.8,393.6 531.0,396.2 531.2,398.6 531.4,400.8 531.6,402.8 531.7,404.6 531.9,406.2 532.1,407.6 532.3,408.7 532.5,409.7 532.7,410.4 532.9,410.9 533.1,411.2 533.2,411.3 533.4,411.2 533.6,410.9 533.8,410.4 534.0,409.7 534.2,408.8 534.4,407.8 534.6,406.5 534.7,405.1 534.9,403.6 535.1,401.9 535.3,400.0 535.5,398.1 535.7,396.0 535.9,393.8 536.1,391.5" fill="none" stroke="#111" stroke-width="1" stroke-dasharray="1 4"/></g>
<clipPath id="pc"><rect x="106.5" y="231.7" width="428.5" height="305.90000000000003"/></clipPath>
<g stroke="#111" stroke-width="1.1"><rect x="106.5" y="231.7" width="428.5" height="305.90000000000003" fill="none" stroke="#4a4a4a" stroke-width="1.5"/><line x1="118.60" y1="537.6" x2="118.60" y2="533.3000000000001"/><line x1="118.60" y1="231.7" x2="118.60" y2="236.0"/><line x1="137.35" y1="537.6" x2="137.35" y2="533.3000000000001"/><line x1="137.35" y1="231.7" x2="137.35" y2="236.0"/><line x1="156.10" y1="537.6" x2="156.10" y2="530.1"/><line x1="156.10" y1="231.7" x2="156.10" y2="239.2"/><line x1="174.85" y1="537.6" x2="174.85" y2="533.3000000000001"/><line x1="174.85" y1="231.7" x2="174.85" y2="236.0"/><line x1="193.60" y1="537.6" x2="193.60" y2="533.3000000000001"/><line x1="193.60" y1="231.7" x2="193.60" y2="236.0"/><line x1="212.34" y1="537.6" x2="212.34" y2="533.3000000000001"/><line x1="212.34" y1="231.7" x2="212.34" y2="236.0"/><line x1="231.09" y1="537.6" x2="231.09" y2="533.3000000000001"/><line x1="231.09" y1="231.7" x2="231.09" y2="236.0"/><line x1="249.84" y1="537.6" x2="249.84" y2="530.1"/><line x1="249.84" y1="231.7" x2="249.84" y2="239.2"/><line x1="268.59" y1="537.6" x2="268.59" y2="533.3000000000001"/><line x1="268.59" y1="231.7" x2="268.59" y2="236.0"/><line x1="287.34" y1="537.6" x2="287.34" y2="533.3000000000001"/><line x1="287.34" y1="231.7" x2="287.34" y2="236.0"/><line x1="306.08" y1="537.6" x2="306.08" y2="533.3000000000001"/><line x1="306.08" y1="231.7" x2="306.08" y2="236.0"/><line x1="324.83" y1="537.6" x2="324.83" y2="533.3000000000001"/><line x1="324.83" y1="231.7" x2="324.83" y2="236.0"/><line x1="343.58" y1="537.6" x2="343.58" y2="530.1"/><line x1="343.58" y1="231.7" x2="343.58" y2="239.2"/><line x1="362.33" y1="537.6" x2="362.33" y2="533.3000000000001"/><line x1="362.33" y1="231.7" x2="362.33" y2="236.0"/><line x1="381.08" y1="537.6" x2="381.08" y2="533.3000000000001"/><line x1="381.08" y1="231.7" x2="381.08" y2="236.0"/><line x1="399.82" y1="537.6" x2="399.82" y2="533.3000000000001"/><line x1="399.82" y1="231.7" x2="399.82" y2="236.0"/><line x1="418.57" y1="537.6" x2="418.57" y2="533.3000000000001"/><line x1="418.57" y1="231.7" x2="418.57" y2="236.0"/><line x1="437.32" y1="537.6" x2="437.32" y2="530.1"/><line x1="437.32" y1="231.7" x2="437.32" y2="239.2"/><line x1="456.07" y1="537.6" x2="456.07" y2="533.3000000000001"/><line x1="456.07" y1="231.7" x2="456.07" y2="236.0"/><line x1="474.82" y1="537.6" x2="474.82" y2="533.3000000000001"/><line x1="474.82" y1="231.7" x2="474.82" y2="236.0"/><line x1="493.56" y1="537.6" x2="493.56" y2="533.3000000000001"/><line x1="493.56" y1="231.7" x2="493.56" y2="236.0"/><line x1="512.31" y1="537.6" x2="512.31" y2="533.3000000000001"/><line x1="512.31" y1="231.7" x2="512.31" y2="236.0"/><line x1="531.06" y1="537.6" x2="531.06" y2="530.1"/><line x1="531.06" y1="231.7" x2="531.06" y2="239.2"/><line x1="106.5" y1="538.00" x2="114.0" y2="538.00"/><line x1="535.0" y1="538.00" x2="527.5" y2="538.00"/><line x1="106.5" y1="514.45" x2="111.3" y2="514.45"/><line x1="535.0" y1="514.45" x2="530.2" y2="514.45"/><line x1="106.5" y1="490.90" x2="114.0" y2="490.90"/><line x1="535.0" y1="490.90" x2="527.5" y2="490.90"/><line x1="106.5" y1="467.35" x2="111.3" y2="467.35"/><line x1="535.0" y1="467.35" x2="530.2" y2="467.35"/><line x1="106.5" y1="443.80" x2="114.0" y2="443.80"/><line x1="535.0" y1="443.80" x2="527.5" y2="443.80"/><line x1="106.5" y1="420.25" x2="111.3" y2="420.25"/><line x1="535.0" y1="420.25" x2="530.2" y2="420.25"/><line x1="106.5" y1="396.70" x2="114.0" y2="396.70"/><line x1="535.0" y1="396.70" x2="527.5" y2="396.70"/><line x1="106.5" y1="373.15" x2="111.3" y2="373.15"/><line x1="535.0" y1="373.15" x2="530.2" y2="373.15"/><line x1="106.5" y1="349.60" x2="114.0" y2="349.60"/><line x1="535.0" y1="349.60" x2="527.5" y2="349.60"/><line x1="106.5" y1="326.05" x2="111.3" y2="326.05"/><line x1="535.0" y1="326.05" x2="530.2" y2="326.05"/><line x1="106.5" y1="302.50" x2="114.0" y2="302.50"/><line x1="535.0" y1="302.50" x2="527.5" y2="302.50"/><line x1="106.5" y1="278.95" x2="111.3" y2="278.95"/><line x1="535.0" y1="278.95" x2="530.2" y2="278.95"/><line x1="106.5" y1="255.40" x2="114.0" y2="255.40"/><line x1="535.0" y1="255.40" x2="527.5" y2="255.40"/><line x1="106.5" y1="231.85" x2="111.3" y2="231.85"/><line x1="535.0" y1="231.85" x2="530.2" y2="231.85"/></g>
<g clip-path="url(#pc2)"><line x1="140.6" y1="422.7" x2="140.6" y2="537.6" stroke="#0000ff" stroke-width="2.6"/><line x1="137.4" y1="422.7" x2="143.79999999999998" y2="422.7" stroke="#0000ff" stroke-width="1.8"/><line x1="137.4" y1="428.8" x2="143.79999999999998" y2="428.8" stroke="#0000ff" stroke-width="1.8"/><line x1="137.4" y1="431.8" x2="143.79999999999998" y2="431.8" stroke="#0000ff" stroke-width="1.8"/><line x1="137.4" y1="461.8" x2="143.79999999999998" y2="461.8" stroke="#0000ff" stroke-width="1.8"/><line x1="137.4" y1="488.9" x2="143.79999999999998" y2="488.9" stroke="#0000ff" stroke-width="1.8"/><line x1="137.4" y1="512.9" x2="143.79999999999998" y2="512.9" stroke="#0000ff" stroke-width="1.8"/><line x1="137.4" y1="519.4" x2="143.79999999999998" y2="519.4" stroke="#0000ff" stroke-width="1.8"/><line x1="146.0" y1="433.3" x2="146.0" y2="500.6" stroke="#0000ff" stroke-width="2.2"/><line x1="142.8" y1="433.3" x2="149.2" y2="433.3" stroke="#0000ff" stroke-width="1.8"/><line x1="142.8" y1="436.8" x2="149.2" y2="436.8" stroke="#0000ff" stroke-width="1.8"/><line x1="142.8" y1="482" x2="149.2" y2="482" stroke="#0000ff" stroke-width="1.8"/><line x1="142.8" y1="500.6" x2="149.2" y2="500.6" stroke="#0000ff" stroke-width="1.8"/><line x1="175.9" y1="254.8" x2="175.9" y2="314.9" stroke="#0000ff" stroke-width="2.2"/><line x1="172.70000000000002" y1="254.8" x2="179.1" y2="254.8" stroke="#0000ff" stroke-width="1.8"/><line x1="172.70000000000002" y1="314.9" x2="179.1" y2="314.9" stroke="#0000ff" stroke-width="1.8"/><line x1="240.7" y1="343.1" x2="240.7" y2="405.6" stroke="#0000ff" stroke-width="2.2"/><line x1="237.5" y1="343.1" x2="243.89999999999998" y2="343.1" stroke="#0000ff" stroke-width="1.8"/><line x1="237.5" y1="405.6" x2="243.89999999999998" y2="405.6" stroke="#0000ff" stroke-width="1.8"/><line x1="323.3" y1="283.0" x2="323.3" y2="338.7" stroke="#0000ff" stroke-width="2.2"/><line x1="320.1" y1="283.0" x2="326.5" y2="283.0" stroke="#0000ff" stroke-width="1.8"/><line x1="320.1" y1="338.7" x2="326.5" y2="338.7" stroke="#0000ff" stroke-width="1.8"/><line x1="420.1" y1="420.1" x2="420.1" y2="483.9" stroke="#0000ff" stroke-width="2.2"/><line x1="416.90000000000003" y1="420.1" x2="423.3" y2="420.1" stroke="#0000ff" stroke-width="1.8"/><line x1="416.90000000000003" y1="483.9" x2="423.3" y2="483.9" stroke="#0000ff" stroke-width="1.8"/><line x1="485.4" y1="390.1" x2="485.4" y2="455.4" stroke="#0000ff" stroke-width="2.2"/><line x1="482.2" y1="390.1" x2="488.59999999999997" y2="390.1" stroke="#0000ff" stroke-width="1.8"/><line x1="482.2" y1="455.4" x2="488.59999999999997" y2="455.4" stroke="#0000ff" stroke-width="1.8"/><line x1="522.8" y1="254.6" x2="522.8" y2="327.8" stroke="#0000ff" stroke-width="2.2"/><line x1="519.5999999999999" y1="254.6" x2="526.0" y2="254.6" stroke="#0000ff" stroke-width="1.8"/><line x1="519.5999999999999" y1="327.8" x2="526.0" y2="327.8" stroke="#0000ff" stroke-width="1.8"/><circle cx="140.6" cy="467.1" r="2.9" fill="#000080"/><circle cx="140.6" cy="474.6" r="2.9" fill="#000080"/><circle cx="140.6" cy="478" r="2.9" fill="#000080"/><circle cx="140.6" cy="480.9" r="2.9" fill="#000080"/><circle cx="140.6" cy="503.1" r="2.9" fill="#000080"/><circle cx="140.6" cy="525.8" r="2.9" fill="#000080"/><circle cx="146.0" cy="459.7" r="2.9" fill="#000080"/><circle cx="146.0" cy="467.7" r="2.9" fill="#000080"/><circle cx="175.9" cy="284.9" r="2.9" fill="#000080"/><circle cx="240.7" cy="381.8" r="2.9" fill="#000080"/><circle cx="323.3" cy="314.8" r="2.9" fill="#000080"/><circle cx="420.1" cy="454.2" r="2.9" fill="#000080"/><circle cx="485.4" cy="427.2" r="2.9" fill="#000080"/><circle cx="522.8" cy="288.7" r="2.9" fill="#000080"/></g>
<clipPath id="pc2"><rect x="106.5" y="231.7" width="428.5" height="305.3"/></clipPath>
<text transform="translate(156.10,550.8) scale(1.17,1)" text-anchor="middle" font-family="Liberation Serif, serif" font-weight="bold" font-size="11.5" fill="#000">51500</text><text transform="translate(249.84,550.8) scale(1.17,1)" text-anchor="middle" font-family="Liberation Serif, serif" font-weight="bold" font-size="11.5" fill="#000">52000</text><text transform="translate(343.58,550.8) scale(1.17,1)" text-anchor="middle" font-family="Liberation Serif, serif" font-weight="bold" font-size="11.5" fill="#000">52500</text><text transform="translate(437.32,550.8) scale(1.17,1)" text-anchor="middle" font-family="Liberation Serif, serif" font-weight="bold" font-size="11.5" fill="#000">53000</text><text transform="translate(531.06,550.8) scale(1.17,1)" text-anchor="middle" font-family="Liberation Serif, serif" font-weight="bold" font-size="11.5" fill="#000">53500</text><text transform="translate(102.6,536.60) scale(1.17,1)" text-anchor="end" font-family="Liberation Serif, serif" font-weight="bold" font-size="11.5" fill="#000">-40</text><text transform="translate(102.6,494.80) scale(1.17,1)" text-anchor="end" font-family="Liberation Serif, serif" font-weight="bold" font-size="11.5" fill="#000">-20</text><text transform="translate(102.6,447.70) scale(1.17,1)" text-anchor="end" font-family="Liberation Serif, serif" font-weight="bold" font-size="11.5" fill="#000">0</text><text transform="translate(102.6,400.60) scale(1.17,1)" text-anchor="end" font-family="Liberation Serif, serif" font-weight="bold" font-size="11.5" fill="#000">20</text><text transform="translate(102.6,353.50) scale(1.17,1)" text-anchor="end" font-family="Liberation Serif, serif" font-weight="bold" font-size="11.5" fill="#000">40</text><text transform="translate(102.6,306.40) scale(1.17,1)" text-anchor="end" font-family="Liberation Serif, serif" font-weight="bold" font-size="11.5" fill="#000">60</text><text transform="translate(102.6,259.30) scale(1.17,1)" text-anchor="end" font-family="Liberation Serif, serif" font-weight="bold" font-size="11.5" fill="#000">80</text><text transform="translate(321,566.9) scale(1.11,1)" text-anchor="middle" font-family="Liberation Serif, serif" font-weight="bold" font-size="13">Modified Julian Date</text><g font-family="Liberation Serif, serif" fill="#000"><text transform="translate(75.1,491.9) rotate(-90) scale(1.118,1)" font-weight="bold" font-size="13">Apparent Radial Velocity (km s</text><text transform="translate(71.0,296.1) rotate(-90) scale(1.22,1)" font-size="10.3">&#8722;</text><text transform="translate(70.1,287.6) rotate(-90)" font-size="10.3">1</text><text transform="translate(73.5,281.6) rotate(-90)" font-weight="bold" font-size="13">)</text></g><text x="207" y="244.7" font-family="Liberation Sans, sans-serif" font-size="9" fill="#000">Apparent radial velocity of Capella</text>
<path d="M753.1 519.2L629.9 519.2M752.9 524.5L632.0 503.4M752.2 529.8L638.2 488.7M751.0 535.0L647.9 476.0M749.4 540.1L660.7 466.3M747.3 545.0L675.6 460.2M744.8 549.8L691.5 458.1M742.0 554.2L707.4 460.2M738.7 558.5L722.3 466.3M735.1 562.4L735.1 476.0M731.1 566.0L744.8 488.7M726.8 569.3L751.0 503.4M722.3 572.1L753.1 519.2M717.5 574.6L751.0 535.0M712.6 576.6L744.8 549.8M707.4 578.2L735.1 562.4M702.2 579.4L722.3 572.1M696.9 580.1L707.4 578.2M691.5 580.3L691.5 580.3M686.1 580.1L675.6 578.2M680.8 579.4L660.7 572.1M675.6 578.2L647.9 562.4M670.4 576.6L638.2 549.8M665.5 574.6L632.0 535.0M660.7 572.1L629.9 519.2M656.2 569.3L632.0 503.4M651.9 566.0L638.2 488.7M647.9 562.4L647.9 476.0M644.3 558.5L660.7 466.3M641.0 554.2L675.6 460.2M638.2 549.8L691.5 458.1M635.7 545.0L707.4 460.2M633.6 540.1L722.3 466.3M632.0 535.0L735.1 476.0M630.8 529.8L744.8 488.7M630.1 524.5L751.0 503.4M629.9 519.2L753.1 519.2M630.1 513.9L751.0 535.0M630.8 508.6L744.8 549.8M632.0 503.4L735.1 562.4M633.6 498.3L722.3 572.1M635.7 493.4L707.4 578.2M638.2 488.7L691.5 580.3M641.0 484.2L675.6 578.2M644.3 479.9L660.7 572.1M647.9 476.0L647.9 562.4M651.9 472.4L638.2 549.8M656.2 469.1L632.0 535.0M660.7 466.3L629.9 519.2M665.5 463.8L632.0 503.4M670.4 461.8L638.2 488.7M675.6 460.2L647.9 476.0M680.8 459.0L660.7 466.3M686.1 458.3L675.6 460.2M691.5 458.1L691.5 458.1M696.9 458.3L707.4 460.2M702.2 459.0L722.3 466.3M707.4 460.2L735.1 476.0M712.6 461.8L744.8 488.7M717.5 463.8L751.0 503.4M722.3 466.3L753.1 519.2M726.8 469.1L751.0 535.0M731.1 472.4L744.8 549.8M735.1 476.0L735.1 562.4M738.7 479.9L722.3 572.1M742.0 484.2L707.4 578.2M744.8 488.7L691.5 580.3M747.3 493.4L675.6 578.2M749.4 498.3L660.7 572.1M751.0 503.4L647.9 562.4M752.2 508.6L638.2 549.8M752.9 513.9L632.0 535.0" stroke="#000" stroke-width="0.5" fill="none"/><rect x="652.5" y="533.5" width="78" height="19.5" fill="#fff"/><g fill="#8c1c1c"><rect x="656.1" y="536.1" width="2.8" height="14.6"/><rect x="662.1" y="536.1" width="2.9" height="10.7"/><rect x="667.2" y="536.1" width="2.8" height="14.6"/><rect x="672.0" y="536.1" width="3.8" height="2.6"/><rect x="678.3" y="536.1" width="6.5" height="2.5"/><rect x="678.3" y="541.1" width="2.5" height="9.6"/></g><rect x="672.0" y="541.1" width="3.8" height="9.6" fill="#666"/><g font-family="Liberation Sans, sans-serif" font-weight="bold" font-size="4.7" fill="#8c1c1c"><text x="690.9" y="539.7" textLength="35.7" lengthAdjust="spacingAndGlyphs">Massachusetts</text><text x="690.9" y="545.2" textLength="26.3" lengthAdjust="spacingAndGlyphs">Institute of</text><text x="690.9" y="550.2" textLength="26.6" lengthAdjust="spacingAndGlyphs">Technology</text></g>
</svg>
<div class="t ti" style="left:48.1px;transform:scaleX(0.965) skewX(-9.5deg)">CAL</div>
<div class="t ti" style="left:135.6px;transform:scaleX(0.942) skewX(-9.5deg)">Observations</div>
<div class="t ti" style="left:348.2px;transform:skewX(-9.5deg)">of</div>
<div class="t ti" style="left:391px;transform:scaleX(0.948) skewX(-9.5deg)">Capella</div>
<div class="dot" style="left:84px;top:132.2px"></div>
<div class="dot" style="left:84px;top:163.1px"></div>
<div class="t b" style="top:131px">Fit APED model (better handle on blend lines) for each of four grating settings</div>
<div class="t b" style="top:162px;letter-spacing:-0.03px">Select several bright emission lines (e.g., Si XIV, Mg XI &amp; XII) for fitting</div>
<div class="t foot" style="left:477px">Capella Study: K. Ishibashi Oct 31, 2005 created with</div>
<div class="t foot tt" style="left:688px">prosper</div>
<div class="t foot" style="left:735.8px;transform:scaleX(0.945);transform-origin:0 0">/ L<span style="font-size:6.5px;position:relative;top:-1.2px;margin-left:-1.6px">A</span><span style="margin-left:-0.8px">T</span><span style="position:relative;top:1.8px;margin-left:-1px">E</span><span style="margin-left:-0.6px">X</span>? &#8211; p. 3</div>
</body></html>
